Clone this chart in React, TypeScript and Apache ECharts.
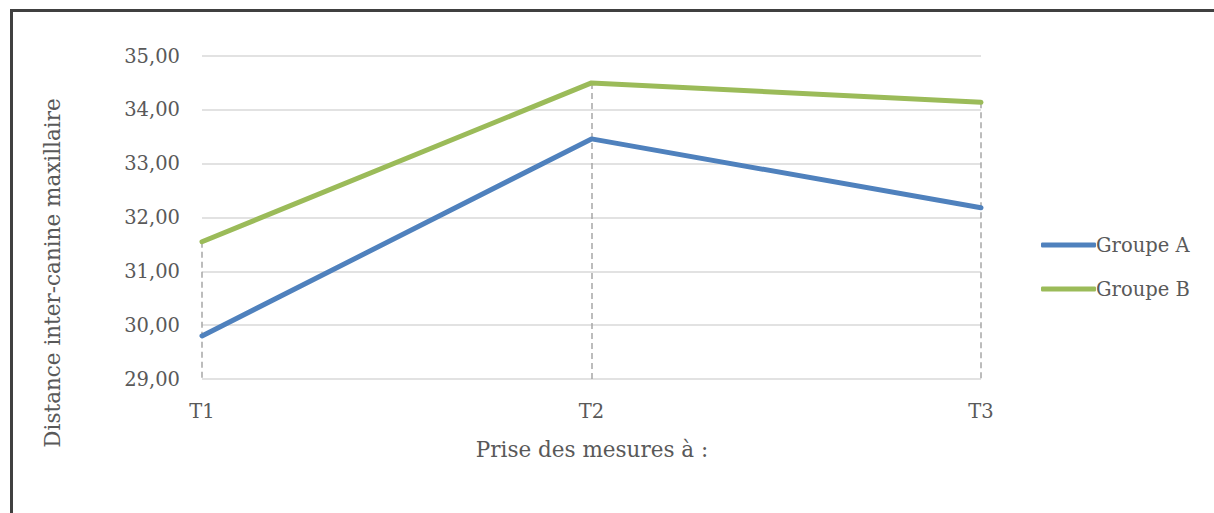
import React, { useEffect, useRef } from "react";
import * as echarts from "echarts";

const categories = ["T1", "T2", "T3"];
const groupeA = [29.8, 33.46, 32.18];
const groupeB = [31.55, 34.5, 34.14];
const seriesNames = ["Groupe A", "Groupe B"];
const yMin = 29;
const yMax = 35;
const yInterval = 1;
const yAxisTitle = "Distance inter-canine maxillaire";
const xAxisTitle = "Prise des mesures à :";

const FONT = "DejaVu Serif";
const TEXT = "#595959";

export default function App() {
  const ref = useRef<HTMLDivElement>(null);
  useEffect(() => {
    if (!ref.current) return;
    const chart = echarts.init(ref.current, undefined, { renderer: "svg" });
    const dropData = categories.map((c, i) => {
      const top = Math.max(groupeA[i], groupeB[i]);
      return [{ coord: [c, top] }, { coord: [c, yMin] }];
    });
    chart.setOption({
      animation: false,
      backgroundColor: "#ffffff",
      textStyle: { fontFamily: FONT, color: TEXT },
      grid: { left: 202, right: 233, top: 56, bottom: 134 },
      legend: {
        orient: "vertical",
        left: 1036,
        top: 230,
        itemWidth: 55,
        itemHeight: 5,
        itemGap: 24,
        icon: "roundRect",
        textStyle: { fontFamily: FONT, fontSize: 19.5, color: TEXT, padding: [0, 0, 0, -5] },
        data: seriesNames,
      },
      xAxis: {
        type: "category",
        data: categories,
        boundaryGap: false,
        axisLine: { show: false },
        axisTick: { show: false },
        axisLabel: { fontFamily: FONT, fontSize: 19.5, color: TEXT, margin: 22 },
        splitLine: { show: false },
      },
      yAxis: {
        type: "value",
        min: yMin,
        max: yMax,
        interval: yInterval,
        axisLine: { show: false },
        axisTick: { show: false },
        axisLabel: {
          fontFamily: FONT,
          fontSize: 19.5,
          color: TEXT,
          margin: 22,
          formatter: (v: number) => v.toFixed(2).replace(".", ","),
        },
        splitLine: { lineStyle: { color: "#D9D9D9", width: 1.5 } },
      },
      graphic: [
        {
          type: "line",
          shape: { x1: 11, y1: 10.5, x2: 1214, y2: 10.5 },
          style: { stroke: "#404040", lineWidth: 3 },
        },
        {
          type: "line",
          shape: { x1: 11.5, y1: 9, x2: 11.5, y2: 513 },
          style: { stroke: "#404040", lineWidth: 3 },
        },
        {
          type: "text",
          x: 52,
          y: 273,
          rotation: Math.PI / 2,
          style: {
            text: yAxisTitle,
            fontFamily: FONT,
            fontSize: 21.5,
            fill: TEXT,
            align: "center",
            verticalAlign: "middle",
          },
        },
        {
          type: "text",
          x: 592,
          y: 449,
          style: {
            text: xAxisTitle,
            fontFamily: FONT,
            fontSize: 21.5,
            fill: TEXT,
            align: "center",
            verticalAlign: "middle",
          },
        },
      ],
      series: [
        {
          name: seriesNames[0],
          type: "line",
          data: groupeA,
          showSymbol: false,
          symbol: "none",
          lineStyle: { color: "#4F81BD", width: 5, cap: "round" },
          itemStyle: { color: "#4F81BD" },
          z: 3,
        },
        {
          name: seriesNames[1],
          type: "line",
          data: groupeB,
          showSymbol: false,
          symbol: "none",
          lineStyle: { color: "#9BBB59", width: 5, cap: "round" },
          itemStyle: { color: "#9BBB59" },
          z: 3,
          markLine: {
            silent: true,
            symbol: ["none", "none"],
            label: { show: false },
            lineStyle: { color: "#A6A6A6", type: [6, 4], width: 1.5 },
            data: dropData,
            z: 1,
          },
        },
      ],
    });
    return () => chart.dispose();
  }, []);
  return <div ref={ref} style={{ width: 1214, height: 513, position: "absolute", left: 0, top: 0 }} />;
}
